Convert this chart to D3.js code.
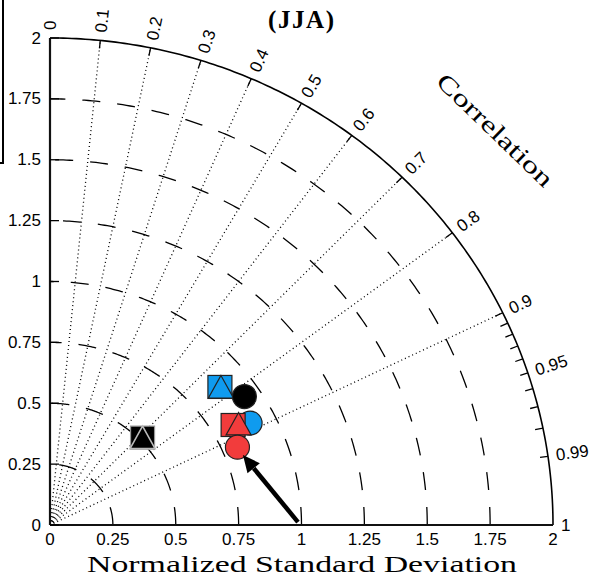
<!DOCTYPE html>
<html>
<meta charset="utf-8">
<head>
	<script src="https://d3js.org/d3.v7.min.js"></script>
	<style>
		body { margin: 0; background: #fff; }
		.ring { fill: none; stroke: #000; stroke-width: 1.3px; stroke-dasharray: 18,17; }
		.corr { fill: none; stroke: #000; stroke-width: 1.3px; stroke-dasharray: 1,3; }
		.outer { fill: none; stroke: #000; stroke-width: 1.6px; }
		.axis { stroke: #111; stroke-width: 2.2px; }
		.tick { stroke: #000; stroke-width: 1.3px; }
		.num { font-family: "Liberation Sans", Arial, sans-serif; font-size: 17px; fill: #000; }
		.ttl { font-family: "Liberation Serif", "DejaVu Serif", serif; fill: #000; }
	</style>
</head>
<body>
<script>
	// std dev axis
	var stdTicks = [0, 0.25, 0.5, 0.75, 1, 1.25, 1.5, 1.75, 2];
	var stdLabels = ["0", "0.25", "0.5", "0.75", "1", "1.25", "1.5", "1.75", "2"];
	var stdRings = [0.25, 0.5, 0.75, 1, 1.25, 1.5, 1.75];

	// correlation
	var corrLines = [0.1, 0.2, 0.3, 0.4, 0.5, 0.6, 0.7, 0.8, 0.9];
	var corrMinor = [0.91, 0.92, 0.93, 0.94, 0.96, 0.97, 0.98];
	var corrLabels = [0, 0.1, 0.2, 0.3, 0.4, 0.5, 0.6, 0.7, 0.8, 0.9, 0.95, 0.99, 1];
	var corrText = ["0", "0.1", "0.2", "0.3", "0.4", "0.5", "0.6", "0.7", "0.8", "0.9", "0.95", "0.99", "1"];

	// model points: black, blue, red
	var runs = ["black", "blue", "red"];
	var squareStd = [0.514, 0.882, 0.836];
	var squareCor = [0.716, 0.766, 0.871];
	var triStd = [0.514, 0.885, 0.857];
	var triCor = [0.716, 0.768, 0.875];
	var circStd = [0.936, 0.899, 0.811];
	var circCor = [0.826, 0.885, 0.919];

	// arrow (x, y in std units)
	var arrowTail = [0.986, 0.012];
	var arrowHead = [0.767, 0.287];

	var width = 596, height = 577;
	var fills = { black: "#000", blue: "#0f9bef", red: "#f23c3c" };

	var x = d3.scaleLinear().domain([0, 2]).range([50, 553]);
	var y = d3.scaleLinear().domain([0, 2]).range([525, 38]);

	function pol(r, c) {
		var t = Math.acos(c);
		return [x(r * Math.cos(t)), y(r * Math.sin(t))];
	}
	// screen direction of a correlation ray
	function dir(c) {
		var o = pol(0, c), p = pol(2, c);
		var dx = p[0] - o[0], dy = p[1] - o[1], l = Math.sqrt(dx * dx + dy * dy);
		return [dx / l, dy / l];
	}

	var svg = d3.select("body").append("svg")
		.attr("width", width)
		.attr("height", height);

	// bit of the legend box cut off on the left
	svg.append("path")
		.attr("d", "M-5,-5 L3,-5 L3,163 L-5,163")
		.attr("fill", "none").attr("stroke", "#000").attr("stroke-width", 2);

	var line = d3.line();
	function arc(r) {
		var pts = [];
		for (var i = 0; i <= 180; i++) {
			var t = i / 180 * Math.PI / 2;
			pts.push([x(r * Math.cos(t)), y(r * Math.sin(t))]);
		}
		return line(pts);
	}

	svg.selectAll(".ring")
		.data(stdRings).enter()
		.append("path")
		.attr("class", "ring")
		.attr("d", arc);

	svg.selectAll(".corr")
		.data(corrLines).enter()
		.append("path")
		.attr("class", "corr")
		.attr("d", function(c) { return line([pol(0, c), pol(2, c)]); });

	svg.append("path").attr("class", "outer").attr("d", arc(2));

	// ticks on the arc
	var arcTicks = corrLines.concat([0.95, 0.99]).concat(corrMinor);
	svg.selectAll(".ctick")
		.data(arcTicks).enter()
		.append("line")
		.attr("class", "tick")
		.each(function(c) {
			var p = pol(2, c), d = dir(c);
			d3.select(this)
				.attr("x1", p[0]).attr("y1", p[1])
				.attr("x2", p[0] - d[0] * 8).attr("y2", p[1] - d[1] * 8);
		});

	svg.selectAll(".clab")
		.data(corrLabels).enter()
		.append("text")
		.attr("class", "num")
		.attr("dominant-baseline", "central")
		.attr("transform", function(c) {
			var p = pol(2, c), d = dir(c);
			var a = Math.atan2(d[1], d[0]) * 180 / Math.PI;
			return "translate(" + (p[0] + d[0] * 8) + "," + (p[1] + d[1] * 8) + ") rotate(" + a + ")";
		})
		.text(function(c, i) { return corrText[i]; });

	// axes
	svg.append("line").attr("class", "axis")
		.attr("x1", x(0)).attr("x2", x(0)).attr("y1", y(0)).attr("y2", y(2));
	svg.append("line").attr("class", "axis")
		.attr("x1", x(0)).attr("x2", x(2)).attr("y1", y(0)).attr("y2", y(0));

	svg.selectAll(".ytick")
		.data(stdTicks).enter()
		.append("line")
		.attr("class", "tick")
		.attr("x1", x(0)).attr("x2", x(0) + 9)
		.attr("y1", function(d) { return y(d); })
		.attr("y2", function(d) { return y(d); });

	svg.selectAll(".ylab")
		.data(stdTicks).enter()
		.append("text")
		.attr("class", "num")
		.attr("text-anchor", "end")
		.attr("dominant-baseline", "central")
		.attr("x", x(0) - 9)
		.attr("y", function(d) { return y(d); })
		.text(function(d, i) { return stdLabels[i]; });

	svg.selectAll(".xlab")
		.data(stdTicks).enter()
		.append("text")
		.attr("class", "num")
		.attr("text-anchor", "middle")
		.attr("x", function(d) { return x(d); })
		.attr("y", 545)
		.text(function(d, i) { return stdLabels[i]; });

	// titles
	svg.append("text").attr("class", "ttl")
		.attr("x", 301).attr("y", 28)
		.attr("text-anchor", "middle")
		.attr("textLength", 66)
		.style("font-size", "25px").style("font-weight", "bold")
		.text("(JJA)");

	svg.append("text").attr("class", "ttl")
		.attr("x", 302).attr("y", 572)
		.attr("text-anchor", "middle")
		.attr("textLength", 430)
		.attr("lengthAdjust", "spacingAndGlyphs")
		.style("font-size", "23px")
		.text("Normalized Standard Deviation");

	svg.append("text").attr("class", "ttl")
		.attr("text-anchor", "middle")
		.attr("dominant-baseline", "central")
		.attr("textLength", 152)
		.attr("lengthAdjust", "spacingAndGlyphs")
		.attr("transform", "translate(495,130) rotate(44)")
		.style("font-size", "24px")
		.text("Correlation");

	// markers
	function drawSquare(i) {
		var p = pol(squareStd[i], squareCor[i]);
		svg.append("rect")
			.attr("x", p[0] - 12).attr("y", p[1] - 11.5)
			.attr("width", 24).attr("height", 23)
			.attr("fill", fills[runs[i]])
			.attr("stroke", runs[i] == "black" ? "#999" : "#222")
			.attr("stroke-width", 1.2);
	}
	function drawTri(i) {
		var p = pol(triStd[i], triCor[i]);
		svg.append("path")
			.attr("d", d3.line()([[p[0], p[1] - 11.5], [p[0] + 12.5, p[1] + 11], [p[0] - 12.5, p[1] + 11]]) + "Z")
			.attr("fill", fills[runs[i]])
			.attr("stroke", runs[i] == "black" ? "#bbb" : "#222")
			.attr("stroke-width", runs[i] == "black" ? 1.6 : 1.2);
	}
	function drawCirc(i) {
		var p = pol(circStd[i], circCor[i]);
		svg.append("circle")
			.attr("cx", p[0]).attr("cy", p[1]).attr("r", 12)
			.attr("fill", fills[runs[i]])
			.attr("stroke", "#222")
			.attr("stroke-width", 1.2);
	}

	drawSquare(0); drawTri(0);
	drawCirc(1);
	drawSquare(1); drawTri(1);
	drawCirc(0);
	drawSquare(2); drawTri(2);
	drawCirc(2);

	// arrow
	var ax0 = x(arrowTail[0]), ay0 = y(arrowTail[1]);
	var ax1 = x(arrowHead[0]), ay1 = y(arrowHead[1]);
	var ang = Math.atan2(ay1 - ay0, ax1 - ax0);
	var hl = 17, hw = 8;
	var bx = ax1 - Math.cos(ang) * hl, by = ay1 - Math.sin(ang) * hl;
	svg.append("line")
		.attr("x1", ax0).attr("y1", ay0).attr("x2", bx).attr("y2", by)
		.attr("stroke", "#000").attr("stroke-width", 4.5);
	svg.append("path")
		.attr("d", d3.line()([[ax1, ay1],
			[bx + Math.sin(ang) * hw, by - Math.cos(ang) * hw],
			[bx - Math.sin(ang) * hw, by + Math.cos(ang) * hw]]) + "Z")
		.attr("fill", "#000");
</script>
</body>
</html>
